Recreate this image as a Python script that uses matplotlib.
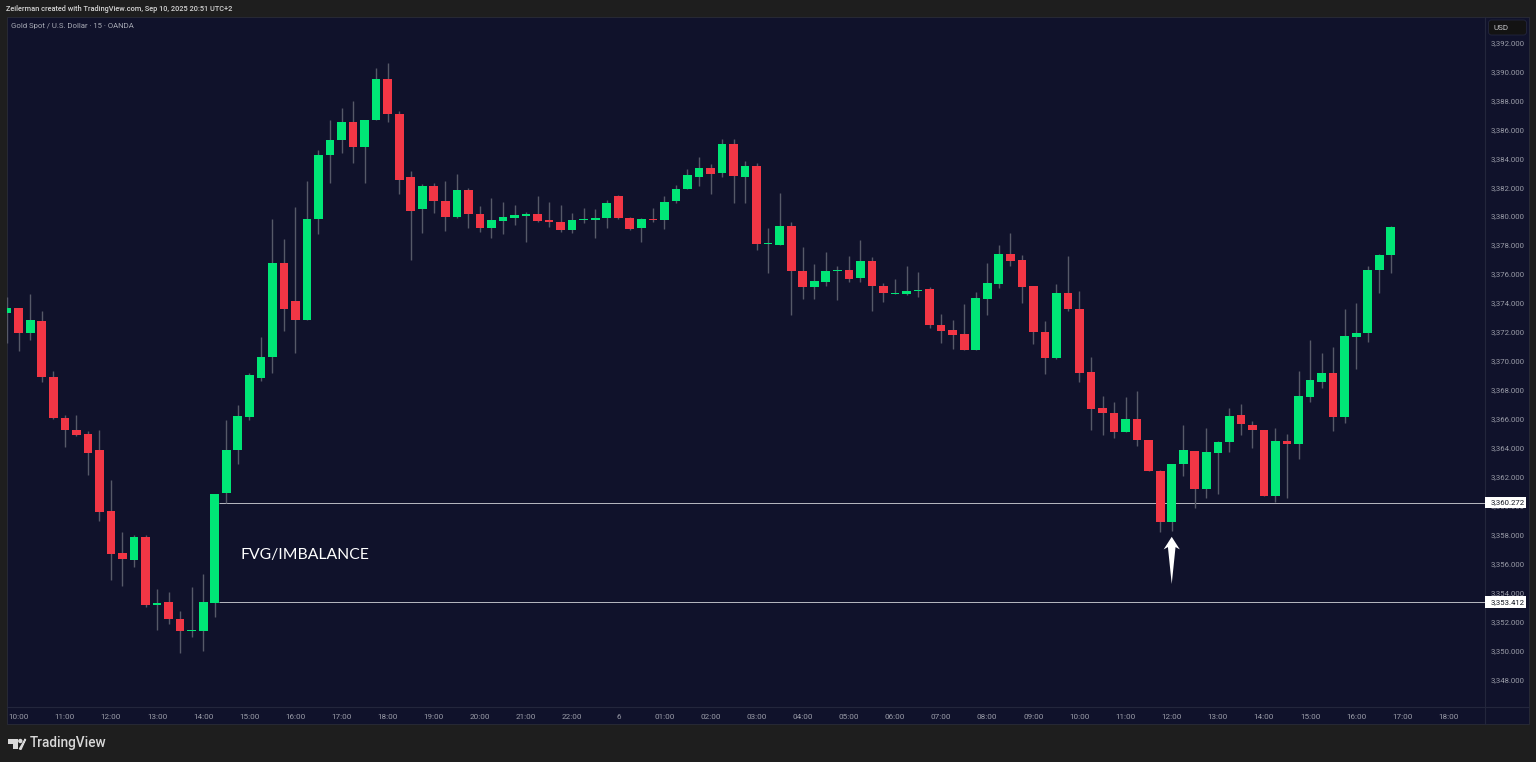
import numpy as np
import matplotlib
matplotlib.use("Agg")
import matplotlib.pyplot as plt
from matplotlib.patches import Rectangle, FancyBboxPatch, Polygon, Circle
from matplotlib.transforms import ScaledTranslation

header_text = "Zeilerman created with TradingView.com, Sep 10, 2025 20:51 UTC+2"
legend_text = "Gold Spot / U.S. Dollar · 15 · OANDA"
zone_text = "FVG/IMBALANCE"
zone_levels = [3360.272, 3353.412]
zone_labels = ["3,360.272", "3,353.412"]
zone_start = 17.4
time_positions = [0, 4, 8, 12, 16, 20, 24, 28, 32, 36, 40, 44, 48, 52, 56, 60, 64, 68, 72, 76, 80,
                  84, 88, 92, 96, 100, 104, 108, 112, 116, 120, 124]
time_labels = ["10:00", "11:00", "12:00", "13:00", "14:00", "15:00", "16:00", "17:00", "18:00", "19:00",
               "20:00", "21:00", "22:00", "6", "01:00", "02:00", "03:00", "04:00", "05:00", "06:00",
               "07:00", "08:00", "09:00", "10:00", "11:00", "12:00", "13:00", "14:00", "15:00", "16:00",
               "17:00", "18:00"]
price_ticks = list(range(3348, 3393, 2))

open_ = [3373.35, 3373.72, 3372.01, 3372.82, 3368.93, 3366.12, 3365.27, 3365.01, 3363.90, 3359.69, 3356.77,
         3356.32, 3357.87, 3353.17, 3353.38, 3352.23, 3351.42, 3351.42, 3353.35, 3360.91, 3363.90, 3366.21,
         3368.86, 3370.33, 3376.81, 3374.20, 3372.89, 3379.85, 3384.27, 3385.31, 3386.59, 3384.86, 3386.71,
         3389.56, 3387.10, 3382.75, 3380.54, 3382.15, 3381.13, 3380.03, 3381.89, 3380.23, 3379.27, 3379.75,
         3379.96, 3380.10, 3380.19, 3379.78, 3379.68, 3379.13, 3379.82, 3379.80, 3379.94, 3381.48, 3379.94,
         3379.27, 3379.89, 3379.80, 3381.09, 3381.96, 3382.75, 3383.39, 3383.02, 3385.05, 3382.75, 3383.51,
         3378.16, 3378.09, 3379.38, 3376.27, 3375.19, 3375.49, 3376.25, 3376.36, 3375.79, 3376.96, 3375.24,
         3374.70, 3374.68, 3374.93, 3375.01, 3372.52, 3372.18, 3371.92, 3370.81, 3374.36, 3375.40, 3377.43,
         3377.01, 3375.24, 3372.06, 3370.26, 3374.73, 3373.65, 3369.27, 3366.79, 3366.46, 3365.15, 3366.05,
         3364.62, 3362.45, 3358.93, 3362.92, 3363.84, 3361.21, 3363.70, 3364.46, 3366.34, 3365.65, 3365.29,
         3360.71, 3364.51, 3364.30, 3367.57, 3368.60, 3369.25, 3366.19, 3371.71, 3372.01, 3376.34, 3377.38]
high = [3374.50, 3373.72, 3374.68, 3373.51, 3369.36, 3366.32, 3366.32, 3365.20, 3365.29, 3361.81, 3358.24,
        3358.03, 3358.05, 3354.28, 3354.09, 3352.80, 3354.46, 3355.34, 3360.89, 3365.96, 3367.01, 3369.20,
        3371.71, 3379.85, 3378.46, 3380.68, 3382.47, 3384.63, 3386.71, 3387.52, 3388.02, 3386.73, 3390.28,
        3390.63, 3387.33, 3383.16, 3382.26, 3382.35, 3382.49, 3382.96, 3382.03, 3380.77, 3381.30, 3381.06,
        3380.83, 3380.37, 3381.46, 3381.06, 3380.83, 3380.28, 3380.63, 3380.54, 3381.16, 3381.53, 3380.03,
        3379.94, 3380.63, 3381.46, 3382.22, 3383.34, 3384.13, 3383.69, 3385.37, 3385.40, 3383.85, 3383.76,
        3379.25, 3381.68, 3379.66, 3377.95, 3376.74, 3377.59, 3376.62, 3377.31, 3378.42, 3377.24, 3375.42,
        3375.72, 3376.62, 3376.18, 3375.15, 3373.28, 3372.89, 3373.99, 3374.82, 3376.83, 3378.07, 3378.88,
        3377.38, 3375.24, 3372.84, 3375.38, 3377.31, 3374.87, 3370.33, 3367.66, 3367.22, 3367.57, 3367.98,
        3364.62, 3362.50, 3362.94, 3365.63, 3363.84, 3365.43, 3364.55, 3366.79, 3367.06, 3365.91, 3365.29,
        3365.40, 3364.99, 3369.36, 3371.51, 3370.61, 3371.02, 3373.65, 3374.04, 3376.62, 3377.43, 3379.40]
low = [3371.28, 3370.77, 3371.51, 3368.62, 3366.07, 3364.09, 3364.87, 3362.16, 3358.98, 3354.90, 3354.53,
       3355.82, 3353.04, 3351.47, 3351.90, 3349.90, 3351.00, 3350.00, 3352.37, 3360.26, 3362.96, 3365.98,
       3368.67, 3369.25, 3372.13, 3370.63, 3372.89, 3378.81, 3382.38, 3384.45, 3383.72, 3382.35, 3386.71,
       3386.59, 3381.62, 3377.03, 3378.90, 3380.26, 3379.06, 3379.92, 3379.25, 3378.99, 3378.57, 3378.83,
       3379.43, 3378.30, 3379.66, 3379.34, 3378.99, 3378.88, 3379.61, 3378.57, 3379.25, 3379.89, 3379.13,
       3378.28, 3379.68, 3379.16, 3380.95, 3381.96, 3382.15, 3381.59, 3382.79, 3380.99, 3380.97, 3377.72,
       3376.14, 3378.09, 3373.23, 3374.34, 3374.36, 3375.24, 3374.27, 3375.51, 3375.51, 3373.51, 3374.15,
       3374.68, 3374.62, 3374.50, 3372.31, 3371.28, 3370.86, 3370.81, 3370.81, 3373.23, 3375.08, 3376.64,
       3374.06, 3371.25, 3369.14, 3370.17, 3373.49, 3368.60, 3365.31, 3364.96, 3364.73, 3365.15, 3364.20,
       3362.45, 3358.26, 3358.31, 3362.13, 3359.92, 3360.57, 3360.89, 3363.77, 3364.96, 3364.06, 3360.71,
       3360.29, 3360.61, 3363.28, 3367.24, 3368.17, 3365.24, 3365.79, 3369.50, 3371.35, 3374.75, 3376.14]
close = [3373.72, 3372.01, 3372.87, 3368.95, 3366.14, 3365.27, 3364.96, 3363.68, 3359.64, 3356.72, 3356.35,
         3357.89, 3353.22, 3353.33, 3352.21, 3351.42, 3351.47, 3353.38, 3360.89, 3363.90, 3366.23, 3369.07,
         3370.31, 3376.81, 3373.65, 3372.89, 3379.89, 3384.31, 3385.33, 3386.57, 3384.84, 3386.73, 3389.56,
         3387.10, 3382.58, 3380.44, 3382.13, 3381.13, 3379.98, 3381.89, 3380.21, 3379.27, 3379.78, 3379.98,
         3380.14, 3380.21, 3379.75, 3379.66, 3379.13, 3379.78, 3379.85, 3379.94, 3380.97, 3379.92, 3379.20,
         3379.89, 3379.82, 3381.06, 3381.94, 3382.89, 3383.37, 3383.00, 3385.05, 3382.86, 3383.51, 3378.12,
         3378.19, 3379.38, 3376.27, 3375.17, 3375.60, 3376.25, 3376.34, 3375.74, 3376.94, 3375.26, 3374.73,
         3374.73, 3374.91, 3374.96, 3372.54, 3372.13, 3371.85, 3370.81, 3374.41, 3375.47, 3377.43, 3376.96,
         3375.19, 3372.08, 3370.26, 3374.73, 3373.65, 3369.23, 3366.74, 3366.44, 3365.17, 3366.03, 3364.60,
         3362.45, 3358.93, 3362.94, 3363.88, 3361.23, 3363.77, 3364.48, 3366.25, 3365.70, 3365.27, 3360.71,
         3364.51, 3364.32, 3367.64, 3368.74, 3369.23, 3366.19, 3371.78, 3371.97, 3376.36, 3377.38, 3379.31]
arrow_bar = 100
arrow_prices = [3357.91, 3357.04, 3357.20, 3354.65]

W, H = 1536, 762
OUTER = "#1e1e1e"
PANEL = "#10122b"
UP = "#00e676"
DOWN = "#f23645"
WICK = "#565968"
TEXT = "#9a9ca8"
SANS = ["Roboto", "DejaVu Sans"]

fig = plt.figure(figsize=(W / 100, H / 100), dpi=100, facecolor=OUTER)

# page chrome in pixel coordinates
bg = fig.add_axes([0, 0, 1, 1], zorder=0)
bg.set_xlim(0, W)
bg.set_ylim(H, 0)
bg.axis("off")
bg.add_patch(Rectangle((7, 17), 1522, 707, fc=PANEL, ec="#2a2c38", lw=0.6))
bg.plot([1485, 1485], [17, 724], color="#23263c", lw=0.8)
bg.plot([7, 1529], [707, 707], color="#23263c", lw=0.8)
bg.text(6, 9, header_text, color="#d4d4d4", fontsize=5.35, fontweight="medium", family=SANS, va="center", ha="left")
bg.text(11, 26, legend_text, color="#a8abb5", fontsize=5.6, family=SANS, va="center", ha="left")
bg.add_patch(FancyBboxPatch((1490, 21.5), 35, 12, boxstyle="round,pad=1.5,rounding_size=3",
                            fc="#131313", ec="#23263c", lw=0.6))
bg.text(1493, 27.5, "USD", color="#c4c4c8", fontsize=5.8, family=SANS, va="center", ha="left")
# TradingView mark
bg.add_patch(Polygon([(8, 739), (18, 739), (18, 749), (13, 749), (13, 744), (8, 744)], fc="#d8d8d8", ec="none"))
bg.add_patch(Circle((20.3, 741), 2.2, fc="#d8d8d8", ec="none"))
bg.add_patch(Polygon([(21, 749), (25.5, 739), (19.5, 749)], fc="#d8d8d8", ec="#d8d8d8", lw=1.2))
bg.text(30, 743.5, "TradingView", color="#d8d8d8", fontsize=9.8, fontweight="medium", family=SANS,
        va="center", ha="left")

# chart axes
ax = fig.add_axes([7 / W, 1 - 707 / H, (1485 - 7) / W, (707 - 17) / H], zorder=1)
ax.patch.set_alpha(0)
ax.set_xlim(-1.015, 127.17)
ax.set_ylim(3346.15, 3393.83)
for s in ax.spines.values():
    s.set_visible(False)

x = np.arange(-1, len(open_) - 1)
o, h, l, c = map(np.array, (open_, high, low, close))
ax.vlines(x, l, h, color=WICK, lw=1.0, zorder=2)
cols = [UP if cc >= oo else DOWN for oo, cc in zip(o, c)]
ax.bar(x, np.abs(c - o), bottom=np.minimum(o, c), width=0.75, color=cols, linewidth=0, zorder=3)

ax.yaxis.tick_right()
ax.set_yticks(price_ticks)
ax.set_yticklabels([f"{p:,.3f}" for p in price_ticks])
ax.set_xticks(time_positions)
ax.set_xticklabels(time_labels)
ax.tick_params(axis="y", length=0, pad=4.0, labelcolor=TEXT, labelsize=5.6)
ax.tick_params(axis="x", length=0, pad=5.0, labelcolor=TEXT, labelsize=5.9)
up_one = ScaledTranslation(0, 1 / 100, fig.dpi_scale_trans)
for t in ax.get_xticklabels() + ax.get_yticklabels():
    t.set_family(SANS)
for t in ax.get_yticklabels():
    t.set_transform(t.get_transform() + up_one)

# zone
ax.hlines(zone_levels, zone_start, 127.17, color="#b9bac2", lw=0.7, zorder=1.5)
tr = ax.get_yaxis_transform()
for lv, lb in zip(zone_levels, zone_labels):
    ax.add_patch(Rectangle((1.0, lv - 0.4), 41 / 1478, 0.8, transform=tr, fc="white", ec="none",
                           clip_on=False, zorder=9))
    ax.text(1.0037, lv, lb, transform=tr, color="#131722", fontsize=5.6, family=SANS,
            va="center", ha="left", clip_on=False, zorder=10)
ax.text(19.2, 3356.66, zone_text, color="white", fontsize=11.3, family=["Lato", "DejaVu Sans"], va="center", ha="left", zorder=5)

# arrow
tip, barb, notch, tail = arrow_prices
ax.add_patch(Polygon([(arrow_bar, tip), (arrow_bar + 0.7, barb), (arrow_bar + 0.33, notch), (arrow_bar, tail),
                      (arrow_bar - 0.33, notch), (arrow_bar - 0.7, barb)], fc="white", ec="none", zorder=6))

fig.savefig("out.png", dpi=100, facecolor=OUTER)
